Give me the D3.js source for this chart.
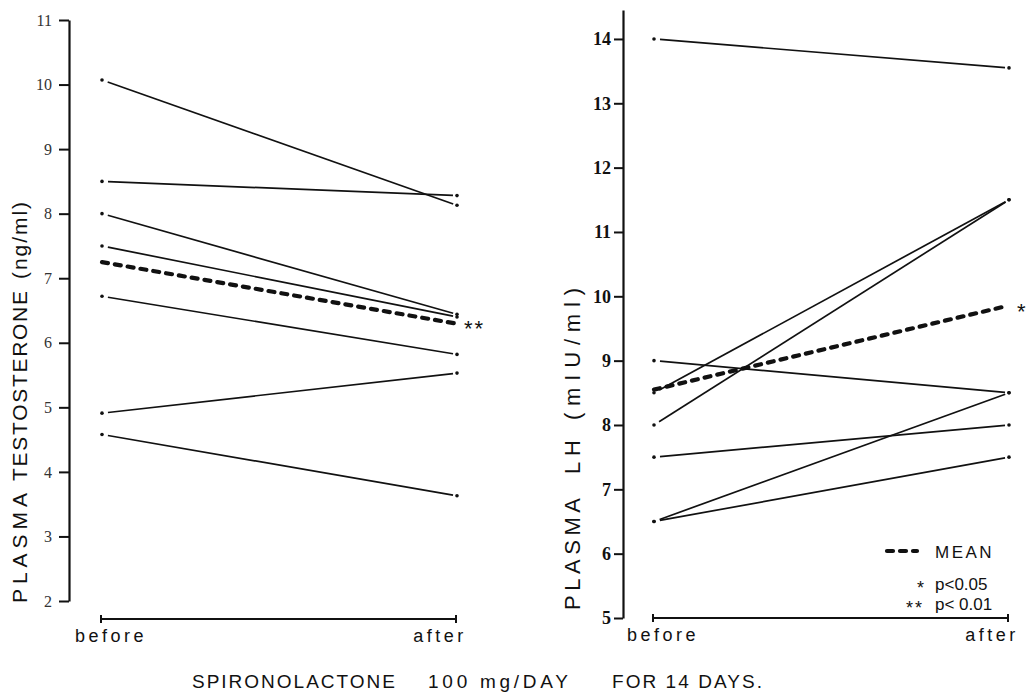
<!DOCTYPE html>
<html>
<head>
<meta charset="utf-8">
<script src="https://cdn.jsdelivr.net/npm/d3@7"></script>
<style>
  html, body { margin: 0; padding: 0; background: #fff; }
  svg { display: block; }
</style>
</head>
<body>
<svg id="chart" width="1029" height="693"></svg>
<script>
// ---------- data ----------
const categories = ["before", "after"];

const testosteroneTicks = [2, 3, 4, 5, 6, 7, 8, 9, 10, 11];
const testosteroneBefore = [10.07, 8.5, 8.0, 7.5, 6.72, 4.91, 4.58];
const testosteroneAfter  = [8.13, 8.28, 6.44, 6.40, 5.82, 5.53, 3.63];
const testosteroneMean   = [7.25, 6.30];

const lhTicks = [5, 6, 7, 8, 9, 10, 11, 12, 13, 14];
const lhBefore = [14.0, 8.5, 8.0, 9.0, 7.5, 6.5, 6.5];
const lhAfter  = [13.55, 11.5, 11.5, 8.5, 8.0, 8.5, 7.5];
const lhMean   = [8.55, 9.85];

const leftTitleWords = ["PLASMA", "TESTOSTERONE", "(ng/ml)"];
const rightTitleWords = ["PLASMA", "LH", "(mIU/ml)"];
const leftSignif = "**";
const rightSignif = "*";
const legendItems = ["MEAN", "p<0.05", "p< 0.01"];
const captionParts = ["SPIRONOLACTONE", "100 mg/DAY", "FOR 14 DAYS."];

// ---------- drawing ----------
const svg = d3.select("#chart");
const ink = "#111";
const sans = "'Liberation Sans', Arial, sans-serif";
const serif = "'Liberation Serif', 'DejaVu Serif', serif";

function shorten(x1, y1, x2, y2, a, b) {
  const dx = x2 - x1, dy = y2 - y1, L = Math.hypot(dx, dy);
  return [x1 + dx * a / L, y1 + dy * a / L, x2 - dx * b / L, y2 - dy * b / L];
}

function panel(cfg) {
  const g = svg.append("g");
  const x = d3.scalePoint().domain(categories).range(cfg.xRange);
  const y = d3.scaleLinear().domain(cfg.yDomain).range(cfg.yRange);

  // y axis
  const ya = g.append("g")
    .attr("transform", `translate(${cfg.axisX},0)`)
    .call(d3.axisLeft(y).tickValues(cfg.ticks).tickSize(cfg.tickSize)
      .tickSizeOuter(0).tickPadding(cfg.tickPad).tickFormat(d3.format("d")));
  ya.select(".domain").attr("stroke", ink).attr("stroke-width", 2.2);
  ya.selectAll(".tick line").attr("stroke", ink).attr("stroke-width", 2);
  ya.selectAll(".tick text")
    .attr("fill", cfg.labelColor)
    .style("font-family", serif)
    .style("font-size", cfg.labelSize + "px")
    .style("font-weight", cfg.labelWeight);

  // x axis (line with end caps)
  const xa = g.append("g")
    .attr("transform", `translate(0,${cfg.xAxisY})`)
    .call(d3.axisBottom(x).tickSize(0).tickFormat(""));
  xa.select(".domain").remove();
  xa.append("line")
    .attr("x1", x("before") - 1).attr("x2", x("after") - 1)
    .attr("y1", 0).attr("y2", 0)
    .attr("stroke", ink).attr("stroke-width", 2);
  xa.selectAll(".cap").data(categories).join("line")
    .attr("x1", d => x(d) - 1).attr("x2", d => x(d) - 1)
    .attr("y1", -4).attr("y2", 4)
    .attr("stroke", ink).attr("stroke-width", 2);
  xa.selectAll(".lab").data(categories).join("text")
    .attr("x", d => x(d) + (d === "before" ? 9 : -17))
    .attr("y", 23)
    .attr("text-anchor", "middle")
    .attr("fill", ink)
    .style("font-family", sans)
    .style("font-size", "18px")
    .style("letter-spacing", "3.5px")
    .text(d => d);

  // individual lines
  const pairs = cfg.before.map((b, i) => ({ b, a: cfg.after[i] }));
  g.selectAll(".subj").data(pairs).join("line")
    .each(function (d) {
      const s = shorten(x("before"), y(d.b), x("after"), y(d.a), 6, 4);
      d3.select(this).attr("x1", s[0]).attr("y1", s[1]).attr("x2", s[2]).attr("y2", s[3]);
    })
    .attr("stroke", ink).attr("stroke-width", 1.7);
  const dots = [];
  pairs.forEach(d => { dots.push([x("before"), y(d.b)]); dots.push([x("after"), y(d.a)]); });
  g.selectAll(".dot").data(dots).join("circle")
    .attr("cx", d => d[0]).attr("cy", d => d[1]).attr("r", 1.8).attr("fill", ink);

  // mean line
  g.append("line")
    .attr("x1", x("before")).attr("y1", y(cfg.mean[0]))
    .attr("x2", x("after") - 2).attr("y2", y(cfg.mean[1]))
    .attr("stroke", ink).attr("stroke-width", 4.2)
    .attr("stroke-linecap", "round")
    .attr("stroke-dasharray", "6,7");
  g.append("text")
    .attr("x", x("after") + cfg.sigDx).attr("y", y(cfg.mean[1]) + 13)
    .attr("fill", ink)
    .style("font-family", sans).style("font-size", "22px")
    .style("letter-spacing", "2px")
    .text(cfg.signif);

  // axis title: each word rotated, placed along the axis
  g.selectAll(".title").data(cfg.titleWords).join("text")
    .attr("transform", (d, i) => `translate(${cfg.titleX},${cfg.titleStart[i]}) rotate(-90)`)
    .attr("text-anchor", "start")
    .attr("textLength", (d, i) => cfg.titleLen[i])
    .attr("lengthAdjust", "spacing")
    .attr("fill", ink)
    .style("font-family", sans)
    .style("font-size", cfg.titleSize + "px")
    .text(d => d);
  return { x, y, g };
}

panel({
  xRange: [102, 457], yDomain: [2, 11], yRange: [601, 20], axisX: 69,
  ticks: testosteroneTicks, tickSize: 10, tickPad: 7,
  labelColor: "#333", labelSize: 16, labelWeight: "normal",
  xAxisY: 619, before: testosteroneBefore, after: testosteroneAfter,
  mean: testosteroneMean, signif: leftSignif, sigDx: 7,
  titleWords: leftTitleWords, titleStart: [603, 481, 279], titleLen: [110, 190, 77],
  titleX: 27, titleSize: 21
});

panel({
  xRange: [654, 1009], yDomain: [5, 14.45], yRange: [618, 10], axisX: 623,
  ticks: lhTicks, tickSize: 9, tickPad: 3,
  labelColor: ink, labelSize: 18, labelWeight: "bold",
  xAxisY: 618, before: lhBefore, after: lhAfter,
  mean: lhMean, signif: rightSignif, sigDx: 8,
  titleWords: rightTitleWords, titleStart: [610, 474, 420], titleLen: [112, 34, 132],
  titleX: 580, titleSize: 22
});

// legend
const lg = svg.append("g");
lg.append("line")
  .attr("x1", 887).attr("x2", 917).attr("y1", 551).attr("y2", 551)
  .attr("stroke", ink).attr("stroke-width", 4.2)
  .attr("stroke-linecap", "round").attr("stroke-dasharray", "6,7");
lg.append("text").attr("x", 935).attr("y", 558).attr("fill", ink)
  .style("font-family", sans).style("font-size", "17px").style("letter-spacing", "2.5px")
  .text(legendItems[0]);
lg.append("text").attr("x", 924).attr("y", 594).attr("text-anchor", "end").attr("fill", ink)
  .style("font-family", sans).style("font-size", "18px").text("*");
lg.append("text").attr("x", 935).attr("y", 590).attr("fill", ink)
  .style("font-family", sans).style("font-size", "17px").text(legendItems[1]);
lg.append("text").attr("x", 924).attr("y", 614).attr("text-anchor", "end").attr("fill", ink)
  .style("font-family", sans).style("font-size", "18px").style("letter-spacing", "2px").text("**");
lg.append("text").attr("x", 935).attr("y", 610).attr("fill", ink)
  .style("font-family", sans).style("font-size", "17px").text(legendItems[2]);

// caption
const capX = [192, 428, 612];
const capW = [203, 140, 150];
svg.selectAll(".caption").data(captionParts).join("text")
  .attr("x", (d, i) => capX[i]).attr("y", 688)
  .attr("textLength", (d, i) => capW[i])
  .attr("lengthAdjust", "spacing")
  .attr("fill", ink)
  .style("font-family", sans).style("font-size", "19px")
  .text(d => d);
</script>
</body>
</html>
